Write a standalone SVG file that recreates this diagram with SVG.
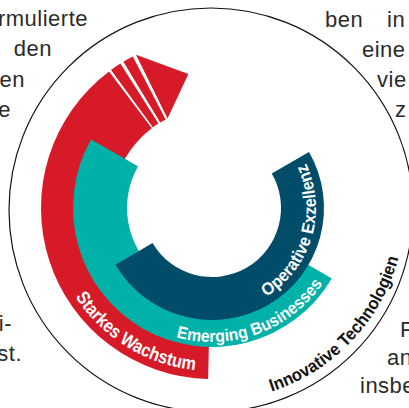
<svg xmlns="http://www.w3.org/2000/svg" xmlns:xlink="http://www.w3.org/1999/xlink" width="409" height="408" viewBox="0 0 409 408">
<style>
.page{font-family:"Liberation Sans",Arial,sans-serif;font-size:22px;fill:#2b2b2b;letter-spacing:0.5px}
.lbl{font-family:"Liberation Sans",Arial,sans-serif;font-weight:bold;fill:#fff}
.red{fill:#d71a28}
.teal{fill:#00b1a8}
.blue{fill:#004c69}
</style>
<defs>
<path id="pStarkes" d="M 75.30 296.78 A 163 163 0 0 0 200.63 370.60"/>
<path id="pEmerging" d="M 176.19 337.13 A 134 134 0 0 0 325.64 279.01"/>
<path id="pOperative" d="M 266.34 296.67 A 104 104 0 0 0 303.83 159.18"/>
<path id="pInnov" d="M 271.64 391.55 A 193 193 0 0 0 400.78 248.13"/>
</defs>
<rect width="409" height="408" fill="#fff"/>
<g id="page-text">
<text class="page" x="88" y="26" text-anchor="end">rmulierte</text>
<text class="page" x="52" y="56" text-anchor="end">den</text>
<text class="page" x="25" y="87" text-anchor="end">en</text>
<text class="page" x="11" y="117" text-anchor="end">e</text>
<text class="page" x="12" y="331" text-anchor="end">i-</text>
<text class="page" x="22" y="361" text-anchor="end">st.</text>
<text class="page" x="325" y="27">ben</text>
<text class="page" x="387" y="27">in</text>
<text class="page" x="362" y="57">eine</text>
<text class="page" x="377" y="87">vie</text>
<text class="page" x="395" y="117">z</text>
<text class="page" x="400" y="337">P</text>
<text class="page" x="387" y="365">an</text>
<text class="page" x="360" y="393">insbe</text>
</g>
<g id="outer-circle">
<circle cx="211" cy="210" r="202" fill="none" stroke="#111" stroke-width="1.2"/>
<text class="lbl" style="fill:#111;font-size:17.5px"><textPath xlink:href="#pInnov" href="#pInnov" textLength="192" lengthAdjust="spacingAndGlyphs">Innovative Technologien</textPath></text>
</g>
<g id="red-arc">
<path class="red" d="M 208.12 378.96 A 171 171 0 0 1 109.09 71.43 L 151.82 128.14 A 100 100 0 0 0 209.73 307.97 Z"/>
<path class="red" d="M 111.01 70.01 A 171 171 0 0 1 120.37 63.62 L 158.42 123.57 A 100 100 0 0 0 152.94 127.30 Z"/>
<path class="red" d="M 123.42 61.73 A 171 171 0 0 1 132.78 56.46 L 165.67 119.38 A 100 100 0 0 0 160.20 122.46 Z"/>
<path class="red" d="M 135.97 54.83 L 188.38 74.07 L 167.54 118.43 Z"/>
</g>
<g id="teal-arc">
<path class="teal" d="M 331.77 278.55 A 139 139 0 0 1 142.5 328.38 A 139 139 0 0 1 91.02 139.55 L 138.02 166.14 A 85 85 0 0 0 169.5 281.61 A 85 85 0 0 0 285.24 251.14 Z"/>
</g>
<g id="blue-arc">
<path class="blue" d="M 115.50 264.84 A 112 112 0 0 0 268 305 A 112 112 0 0 0 309 152 L 271.76 173.5 A 69 69 0 0 1 246.5 267.76 A 69 69 0 0 1 152.55 243.02 Z"/>
</g>
<g id="labels">
<text class="lbl" style="font-size:18.5px"><textPath xlink:href="#pStarkes" href="#pStarkes" textLength="145" lengthAdjust="spacingAndGlyphs">Starkes Wachstum</textPath></text>
<text class="lbl" style="font-size:17px"><textPath xlink:href="#pEmerging" href="#pEmerging" textLength="166" lengthAdjust="spacingAndGlyphs">Emerging Businesses</textPath></text>
<text class="lbl" style="font-size:17.5px"><textPath xlink:href="#pOperative" href="#pOperative" textLength="152" lengthAdjust="spacingAndGlyphs">Operative Exzellenz</textPath></text>
</g>
</svg>
